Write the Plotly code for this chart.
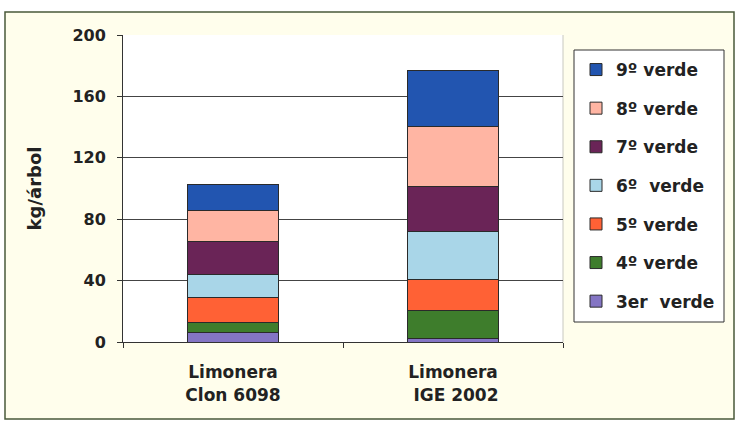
import plotly.graph_objects as go

categories = ["Limonera<br>Clon 6098", "Limonera<br> IGE 2002"]
series_names = ["3er\u00a0 verde", "4º verde", "5º verde", "6º\u00a0 verde", "7º verde", "8º verde", "9º verde"]
v_3er = [6.1, 2.4]
v_4 = [6.7, 17.8]
v_5 = [16.3, 20.6]
v_6 = [15.0, 31.4]
v_7 = [21.2, 29.1]
v_8 = [20.2, 39.3]
v_9 = [17.3, 36.6]
series_values = [v_3er, v_4, v_5, v_6, v_7, v_8, v_9]
colors = ["#8475C4", "#3E7D2C", "#FF6135", "#A9D6E8", "#6A2457", "#FFB5A3", "#2255B0"]
y_ticks = [0, 40, 80, 120, 160, 200]

FONT = "DejaVu Sans, Arial, sans-serif"
TXT = "#222222"

fig = go.Figure()
n = len(series_names)
for i, (name, vals, col) in enumerate(zip(series_names, series_values, colors)):
    fig.add_trace(go.Bar(
        x=categories, y=vals, name=name, legendgroup=name, legendrank=n - i,
        marker=dict(color=col, line=dict(color="#2a2a2a", width=1)),
    ))

W, H = 735, 424
L, R, T, B = 123, 172, 35, 82
pw, ph = W - L - R, H - T - B

def px_x(p):
    return (p - L) / pw

def px_y(p):
    return 1 - (p - T) / ph

shapes = [
    dict(type="rect", xref="paper", yref="paper", layer="below",
         x0=px_x(5), x1=px_x(734), y0=px_y(419), y1=px_y(12),
         fillcolor="#FFFEEC", line=dict(color="#4a5a3a", width=1.5)),
    dict(type="rect", xref="paper", yref="paper", layer="below",
         x0=0, x1=1, y0=0, y1=1, fillcolor="white", line=dict(width=0)),
    dict(type="line", xref="paper", yref="paper", layer="below",
         x0=1, x1=1, y0=0, y1=1, line=dict(color="#c8c8c0", width=1)),
    dict(type="rect", xref="paper", yref="paper", layer="below",
         x0=px_x(574), x1=px_x(724), y0=px_y(322), y1=px_y(50),
         fillcolor="white", line=dict(color="#333333", width=1)),
]

fig.update_layout(
    width=W, height=H,
    margin=dict(l=L, r=R, t=T, b=B, pad=0),
    paper_bgcolor="white", plot_bgcolor="white",
    barmode="stack", bargap=0.59,
    font=dict(family=FONT, color=TXT),
    shapes=shapes,
    showlegend=True,
    legend=dict(
        x=px_x(576), y=px_y(52), xanchor="left", yanchor="top",
        traceorder="grouped", tracegroupgap=13.5,
        bgcolor="rgba(0,0,0,0)", borderwidth=0,
        font=dict(family=FONT, size=17, color=TXT, weight="bold"),
    ),
    xaxis=dict(
        showline=True, linecolor="#333333", linewidth=1,
        ticks="outside", tickson="boundaries", ticklen=5, tickcolor="#333333",
        tickfont=dict(family=FONT, size=17, color=TXT, weight="bold"),
        ticklabelstandoff=15,
        showgrid=False,
    ),
    yaxis=dict(
        range=[0, 200], tickvals=y_ticks,
        showline=True, linecolor="#333333", linewidth=1,
        ticks="outside", ticklen=5, tickcolor="#333333",
        tickfont=dict(family=FONT, size=16, color=TXT, weight="bold"),
        ticklabelstandoff=8,
        showgrid=True, gridcolor="#444444", gridwidth=1,
        zeroline=False,
        title=dict(text="<b>kg/árbol</b>", font=dict(family=FONT, size=18, color=TXT), standoff=26),
    ),
)

fig.write_html("out.html", post_script="document.body.style.margin='0';",
               config={"displayModeBar": False})
